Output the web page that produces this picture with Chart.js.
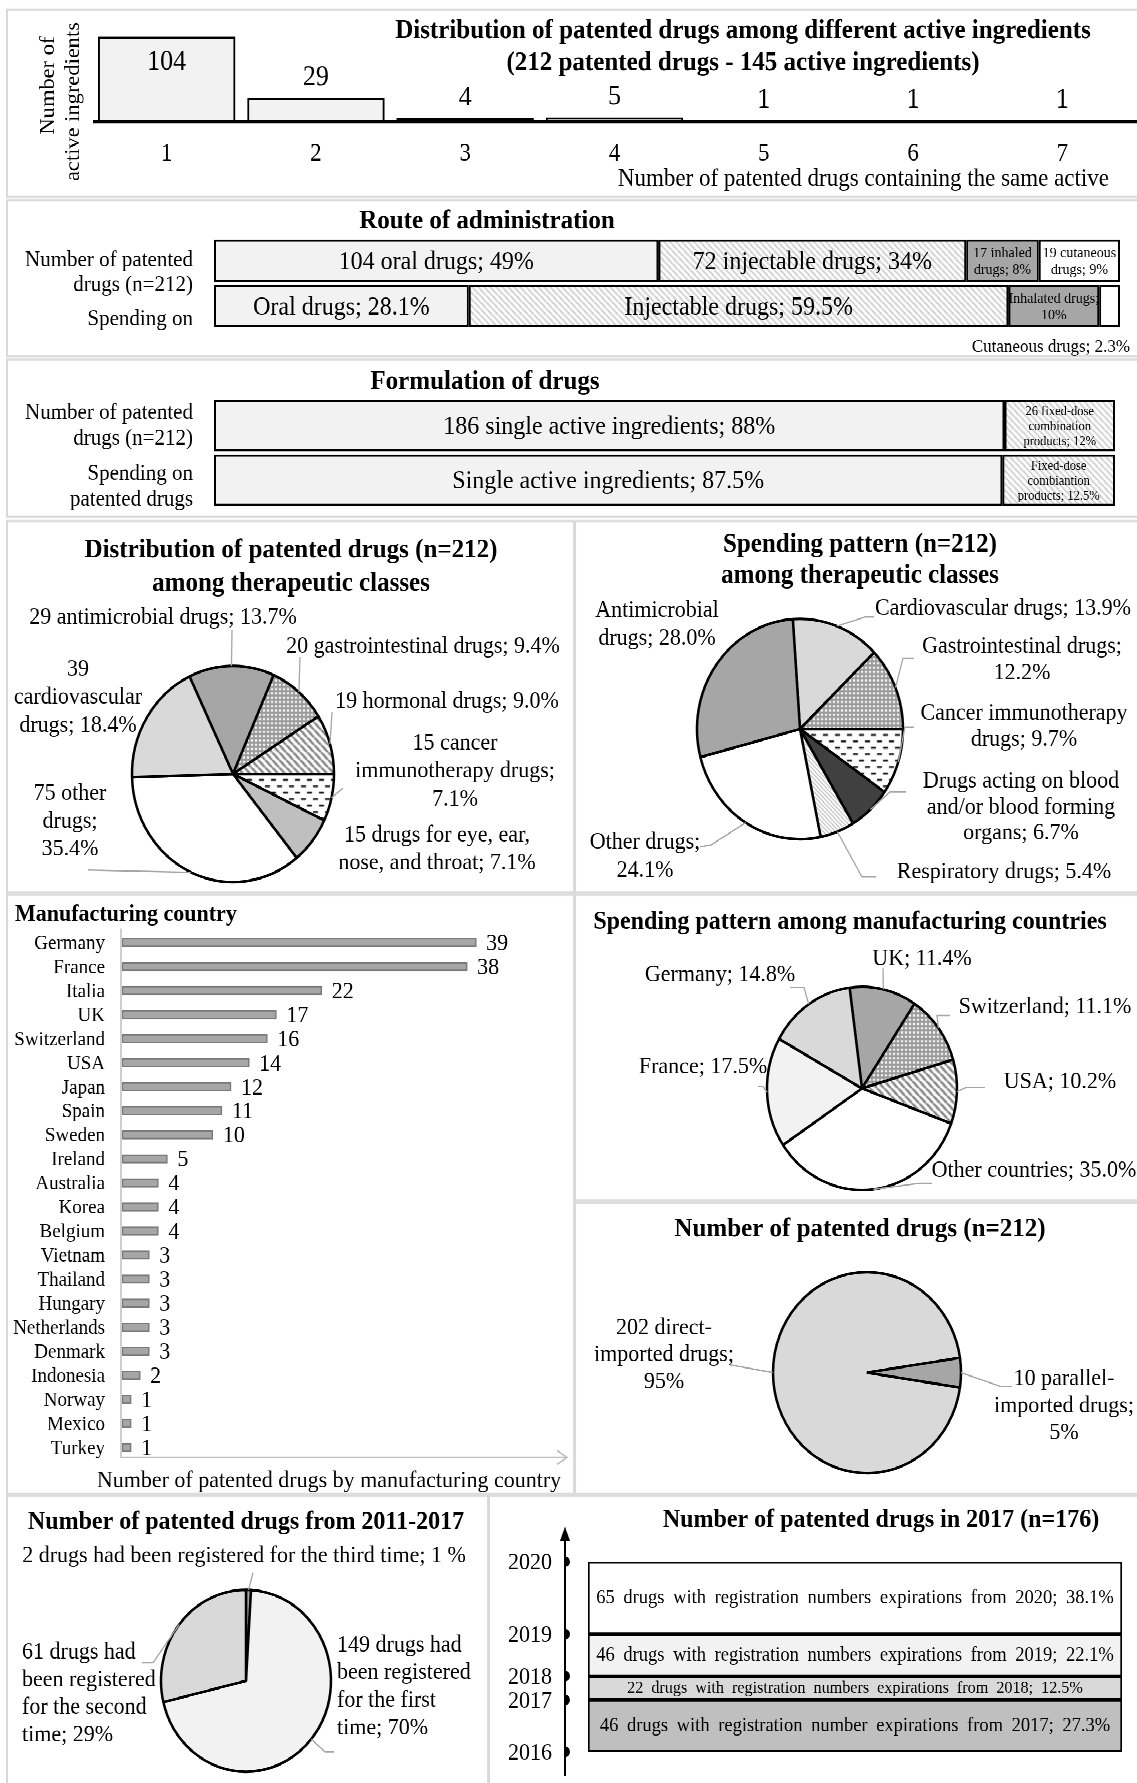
<!DOCTYPE html>
<html><head><meta charset="utf-8">
<script src="https://cdn.jsdelivr.net/npm/chart.js@4.4.1/dist/chart.umd.min.js"></script>
<style>
html,body{margin:0;padding:0;background:#fff;}
body{width:1137px;height:1783px;overflow:hidden;position:relative;}
#page{position:absolute;left:0;top:0;width:1137px;transform-origin:0 0;}
.panel{position:absolute;box-sizing:border-box;border:2px solid #d9d9d9;}
canvas{position:absolute;}
</style></head><body><div id="page"></div>
<script>
// ================= DATA =================
const activeCategories = ['1','2','3','4','5','6','7'];
const activeIngredientCounts = [104, 29, 4, 5, 1, 1, 1];

const routeNames = ['Oral','Injectable','Inhaled','Cutaneous'];
const routeDrugCounts = [104, 72, 17, 19];
const routeSpendingPct = [28.1, 59.5, 10, 2.3];
const routeCountLabels = ['104 oral drugs; 49%', '72 injectable drugs; 34%', '17 inhaled\ndrugs; 8%', '19 cutaneous\ndrugs; 9%'];
const routeSpendLabels = ['Oral drugs; 28.1%', 'Injectable drugs; 59.5%', 'Inhalated drugs;\n10%', ''];
const routeOutsideLabel = 'Cutaneous drugs; 2.3%';

const formulationNames = ['Single active ingredients', 'Fixed-dose combination products'];
const formulationDrugCounts = [186, 26];
const formulationSpendingPct = [87.5, 12.5];
const formulationCountLabels = ['186 single active ingredients; 88%', '26 fixed-dose\ncombination\nproducts; 12%'];
const formulationSpendLabels = ['Single active ingredients; 87.5%', 'Fixed-dose\ncombiantion\nproducts; 12.5%'];

const therapyCountClasses = ['Antimicrobial','Gastrointestinal','Hormonal','Cancer immunotherapy','Eye, ear, nose, throat','Other','Cardiovascular'];
const therapyCountValues = [29, 20, 19, 15, 15, 75, 39];
const therapyCountLabels = ['29 antimicrobial drugs; 13.7%', '20 gastrointestinal drugs; 9.4%', '19 hormonal drugs; 9.0%', '15 cancer\nimmunotherapy drugs;\n7.1%', '15 drugs for eye, ear,\nnose, and throat; 7.1%', '75 other\ndrugs;\n35.4%', '39\ncardiovascular\ndrugs; 18.4%'];

const therapySpendClasses = ['Cardiovascular','Gastrointestinal','Cancer immunotherapy','Blood','Respiratory','Other','Antimicrobial'];
const therapySpendPct = [13.9, 12.2, 9.7, 6.7, 5.4, 24.1, 28.0];
const therapySpendLabels = ['Cardiovascular drugs; 13.9%', 'Gastrointestinal drugs;\n12.2%', 'Cancer immunotherapy\ndrugs; 9.7%', 'Drugs acting on blood\nand/or blood forming\norgans; 6.7%', 'Respiratory drugs; 5.4%', 'Other drugs;\n24.1%', 'Antimicrobial\ndrugs; 28.0%'];

const countries = ['Germany','France','Italia','UK','Switzerland','USA','Japan','Spain','Sweden','Ireland','Australia','Korea','Belgium','Vietnam','Thailand','Hungary','Netherlands','Denmark','Indonesia','Norway','Mexico','Turkey'];
const countryDrugCounts = [39, 38, 22, 17, 16, 14, 12, 11, 10, 5, 4, 4, 4, 3, 3, 3, 3, 3, 2, 1, 1, 1];

const spendCountries = ['UK','Switzerland','USA','Other countries','France','Germany'];
const spendCountryPct = [11.4, 11.1, 10.2, 35.0, 17.5, 14.8];
const spendCountryLabels = ['UK; 11.4%','Switzerland; 11.1%','USA; 10.2%','Other countries; 35.0%','France; 17.5%','Germany; 14.8%'];

const importTypes = ['Direct-imported','Parallel-imported'];
const importCounts = [202, 10];
const importLabels = ['202 direct-\nimported drugs;\n95%', '10 parallel-\nimported drugs;\n5%'];

const registrationTimes = ['Third time','First time','Second time'];
const registrationCounts = [2, 149, 61];
const registrationLabels = ['2 drugs had been registered for the third time; 1 %', '149 drugs had\nbeen registered\nfor the first\ntime; 70%', '61 drugs had\nbeen registered\nfor the second\ntime; 29%'];

const expiryYears = ['2016','2017','2018','2019','2020'];
const expiryPct = [27.3, 12.5, 22.1, 38.1];
const expiryLabels = ['46 drugs with registration number expirations from 2017; 27.3%', '22 drugs with registration numbers expirations from 2018; 12.5%', '46 drugs with registration numbers expirations from 2019; 22.1%', '65 drugs with registration numbers expirations from 2020; 38.1%'];

// ================= LAYOUT HELPERS =================
const K = 1.07;
const FONT = '"Liberation Serif", "Times New Roman", serif';
const page = document.getElementById('page');
page.style.height = (1783 / K) + 'px';
page.style.transform = 'scaleY(' + K + ')';
const sum = a => a.reduce((s, v) => s + v, 0);

function addPanel(x0, y0, x1, y1) {
  const d = document.createElement('div');
  d.className = 'panel';
  d.style.left = x0 + 'px'; d.style.top = (y0 / K) + 'px';
  d.style.width = (x1 - x0) + 'px'; d.style.height = ((y1 - y0) / K) + 'px';
  page.appendChild(d);
}
function area(x0, y0, x1, y1) {
  const c = document.createElement('canvas');
  const w = Math.round(x1 - x0), h = Math.round((y1 - y0) / K);
  c.width = w; c.height = h;
  c.style.left = x0 + 'px'; c.style.top = (y0 / K) + 'px';
  page.appendChild(c);
  return { c, w, h, X: v => v - x0, Y: v => (v - y0) / K };
}
function pad(a, l, r, t, b) {
  return { left: a.X(l), right: a.w - a.X(r), top: a.Y(t), bottom: a.h - a.Y(b) };
}
function text(ctx, s, x, y, size, o = {}) {
  ctx.save();
  ctx.font = (o.bold ? 'bold ' : '') + size + 'px ' + FONT;
  ctx.fillStyle = o.color || '#000';
  ctx.textAlign = o.align || 'center';
  ctx.textBaseline = 'middle';
  if (o.ws && 'wordSpacing' in ctx) ctx.wordSpacing = o.ws + 'px';
  const dy = size * 0.06;
  if (o.rotate) { ctx.translate(x, y); ctx.rotate(o.rotate); ctx.fillText(s, 0, dy); }
  else ctx.fillText(s, x, y + dy);
  ctx.restore();
}
function lines(ctx, s, x, y, size, lh, o) {
  s.split('\n').forEach((l, i) => text(ctx, l, x, y + i * lh, size, o));
}
function centeredLines(ctx, s, x, cy, size, lh, o) {
  const arr = s.split('\n');
  arr.forEach((l, i) => text(ctx, l, x, cy + (i - (arr.length - 1) / 2) * lh, size, o));
}
function tile(w, h, draw) {
  const c = document.createElement('canvas'); c.width = w; c.height = h;
  const x = c.getContext('2d'); draw(x, w, h);
  return x.createPattern(c, 'repeat');
}
function diag(size, lw, color, bg) {
  return tile(size, size, x => {
    x.fillStyle = bg; x.fillRect(0, 0, size, size);
    x.strokeStyle = color; x.lineWidth = lw; x.beginPath();
    for (const o of [-size, 0, size]) { x.moveTo(o, 0); x.lineTo(o + size, size); }
    x.stroke();
  });
}
const patDots = tile(4, 4, x => { x.fillStyle = '#9a9a9a'; x.fillRect(0, 0, 4, 4); x.fillStyle = '#fff'; x.fillRect(1, 1, 2, 2); });
const patStripes = diag(7, 2.2, '#808080', '#fff');
const patInject = diag(6, 1.4, '#c4c4c4', '#fff');
const patFine = diag(4, 1, '#a0a0a0', '#fff');
const patDash = tile(12, 12, x => { x.fillStyle = '#fff'; x.fillRect(0, 0, 12, 12); x.fillStyle = '#000'; x.fillRect(1, 2, 5, 1.6); x.fillRect(7, 8, 5, 1.6); });

const baseOpts = { responsive: false, animation: false, devicePixelRatio: 2, events: [],
  plugins: { legend: { display: false }, tooltip: { enabled: false } } };

// ================= PANEL 1: active ingredients =================
(function () {
  addPanel(6, 9, 1140, 198);
  const a = area(6, 9, 1137, 198);
  new Chart(a.c, {
    type: 'bar',
    data: { labels: activeCategories, datasets: [{ data: activeIngredientCounts, backgroundColor: '#f2f2f2', borderColor: '#000', borderWidth: 2, borderSkipped: 'bottom', barPercentage: 0.92, categoryPercentage: 1 }] },
    options: Object.assign({}, baseOpts, {
      layout: { padding: pad(a, 92, 1137, 37, 122) },
      scales: { x: { display: false }, y: { display: false, min: 0, max: Math.max(...activeIngredientCounts) } }
    }),
    plugins: [{ id: 'p1', afterDraw(ch) {
      const ctx = ch.ctx, ys = ch.scales.y, base = ys.getPixelForValue(0);
      ctx.save(); ctx.strokeStyle = '#000'; ctx.lineWidth = 3; ctx.beginPath();
      ctx.moveTo(a.X(93), base); ctx.lineTo(a.w, base); ctx.stroke(); ctx.restore();
      ch.getDatasetMeta(0).data.forEach((el, i) => {
        const v = activeIngredientCounts[i];
        const inside = v / ys.max > 0.8;
        text(ctx, String(v), el.x, inside ? el.y + 24 / K : el.y - 22 / K, 26);
        text(ctx, activeCategories[i], el.x, a.Y(153), 23);
      });
      text(ctx, 'Distribution of patented drugs among different active ingredients', a.X(743), a.Y(30), 25, { bold: true });
      text(ctx, '(212 patented drugs - 145 active ingredients)', a.X(743), a.Y(62), 25, { bold: true });
      text(ctx, 'Number of patented drugs containing the same active', a.X(1109), a.Y(178), 23, { align: 'right' });
      text(ctx, 'Number of', a.X(47), a.Y(86), 21, { rotate: -Math.PI / 2 });
      text(ctx, 'active ingredients', a.X(72), a.Y(102), 21, { rotate: -Math.PI / 2 });
    } }]
  });
})();

// ================= stacked horizontal helper =================
function stackedRows(a, plot, barPct, fills, rowsA, rowsB, labelsA, labelsB, smallSize, smallLh, extra) {
  const tA = sum(rowsA), tB = sum(rowsB);
  return new Chart(a.c, {
    type: 'bar',
    data: { labels: ['count', 'spending'], datasets: rowsA.map((v, i) => ({
      data: [v / tA * 100, rowsB[i] / tB * 100], backgroundColor: fills[i], borderColor: '#000', borderWidth: 2,
      borderSkipped: false, barPercentage: barPct, categoryPercentage: 1 })) },
    options: Object.assign({}, baseOpts, {
      indexAxis: 'y',
      layout: { padding: pad(a, plot.l, plot.r, plot.t, plot.b) },
      scales: { x: { stacked: true, display: false, min: 0, max: 100 }, y: { stacked: true, display: false } }
    }),
    plugins: [{ id: 'segLabels', afterDraw(ch) {
      const ctx = ch.ctx;
      rowsA.forEach((_, i) => {
        ch.getDatasetMeta(i).data.forEach((el, j) => {
          const s = j === 0 ? labelsA[i] : labelsB[i];
          if (!s) return;
          const cx = (el.x + el.base) / 2;
          if (s.includes('\n')) centeredLines(ctx, s, cx, el.y, smallSize, smallLh / K);
          else text(ctx, s, cx, el.y, 24);
        });
      });
      extra(ctx);
    } }]
  });
}

// ================= PANEL 2: route =================
(function () {
  addPanel(6, 199, 1140, 357);
  const a = area(6, 199, 1137, 357);
  stackedRows(a, { l: 214, r: 1120, t: 238, b: 329 }, 0.93, ['#f2f2f2', patInject, '#a6a6a6', '#ffffff'],
    routeDrugCounts, routeSpendingPct, routeCountLabels, routeSpendLabels, 14, 17, x => {
      text(x, 'Route of administration', a.X(487), a.Y(220), 25, { bold: true });
      lines(x, 'Number of patented\ndrugs (n=212)', a.X(193), a.Y(259), 21, 25 / K, { align: 'right' });
      text(x, 'Spending on', a.X(193), a.Y(318), 21, { align: 'right' });
      text(x, routeOutsideLabel, a.X(1130), a.Y(346), 17, { align: 'right' });
    });
})();

// ================= PANEL 3: formulation =================
(function () {
  addPanel(6, 358, 1140, 518);
  const a = area(6, 358, 1137, 518);
  stackedRows(a, { l: 214, r: 1115, t: 398, b: 507 }, 0.94, ['#f2f2f2', patInject],
    formulationDrugCounts, formulationSpendingPct, formulationCountLabels, formulationSpendLabels, 12.5, 15, x => {
      text(x, 'Formulation of drugs', a.X(485), a.Y(380), 25, { bold: true });
      lines(x, 'Number of patented\ndrugs (n=212)', a.X(193), a.Y(411), 21, 26 / K, { align: 'right' });
      lines(x, 'Spending on\npatented drugs', a.X(193), a.Y(472), 21, 26 / K, { align: 'right' });
    });
})();

// ================= pie helper =================
function pie(a, cfg) {
  const R = cfg.r;
  const cx = a.X(cfg.cx), cy = a.Y(cfg.cy);
  new Chart(a.c, {
    type: 'pie',
    data: { labels: cfg.names, datasets: [{ data: cfg.values, backgroundColor: cfg.colors, borderColor: '#000', borderWidth: 2.5 }] },
    options: Object.assign({}, baseOpts, {
      rotation: cfg.rotation, radius: R,
      layout: { padding: { left: cx - R, right: a.w - cx - R, top: cy - R, bottom: a.h - cy - R } }
    }),
    plugins: [{ id: 'pieLabels', afterDraw(ch) {
      const ctx = ch.ctx;
      const meta = ch.getDatasetMeta(0);
      ctx.save(); ctx.strokeStyle = '#a6a6a6'; ctx.lineWidth = 1.3;
      meta.data.forEach((el, i) => {
        const L = cfg.leaders[i]; if (!L) return;
        const mid = (el.startAngle + el.endAngle) / 2;
        ctx.beginPath();
        ctx.moveTo(el.x + Math.cos(mid) * el.outerRadius, el.y + Math.sin(mid) * el.outerRadius);
        L.forEach(p => ctx.lineTo(a.X(p[0]), a.Y(p[1])));
        ctx.stroke();
      });
      ctx.restore();
      cfg.labels.forEach((s, i) => {
        const p = cfg.pos[i];
        lines(ctx, s, a.X(p.x), a.Y(p.y), cfg.fontSize || 22, (p.lh || 28) / K, { align: p.align || 'center' });
      });
      cfg.titles.forEach(t => text(ctx, t.s, a.X(t.x), a.Y(t.y), t.size, { bold: true }));
    } }]
  });
}

// ================= PANEL 4 =================
(function () {
  addPanel(6, 520, 575, 893);
  const a = area(6, 520, 573, 892);
  pie(a, {
    cx: 233, cy: 774, r: 101, rotation: -25.5,
    names: therapyCountClasses, values: therapyCountValues, labels: therapyCountLabels,
    colors: ['#a6a6a6', patDots, patStripes, patDash, '#bfbfbf', '#ffffff', '#d9d9d9'],
    pos: [{ x: 163, y: 616 }, { x: 423, y: 645 }, { x: 447, y: 700 }, { x: 455, y: 742, lh: 28 }, { x: 437, y: 834, lh: 28 }, { x: 70, y: 792, lh: 28 }, { x: 78, y: 668, lh: 28 }],
    leaders: [[[232, 630]], [[300, 657]], [[332, 712]], [[343, 788]], null, [[88, 870]], null],
    titles: [{ s: 'Distribution of patented drugs (n=212)', x: 291, y: 549, size: 25 }, { s: 'among therapeutic classes', x: 291, y: 582, size: 25 }]
  });
})();

// ================= PANEL 5 =================
(function () {
  addPanel(574, 520, 1140, 893);
  const a = area(576, 520, 1137, 892);
  pie(a, {
    cx: 800, cy: 729, r: 103, rotation: -4,
    names: therapySpendClasses, values: therapySpendPct, labels: therapySpendLabels,
    colors: ['#d9d9d9', patDots, patDash, '#404040', patFine, '#ffffff', '#a6a6a6'],
    pos: [{ x: 1003, y: 607 }, { x: 1022, y: 645, lh: 27 }, { x: 1024, y: 712, lh: 26 }, { x: 1021, y: 780, lh: 26 }, { x: 1004, y: 871 }, { x: 645, y: 841, lh: 28 }, { x: 657, y: 609, lh: 28 }],
    leaders: [[[865, 617], [874, 617]], [[903, 658], [914, 658]], [[905, 727], [914, 727]], [[890, 792], [906, 792]], [[862, 877], [876, 877]], [[711, 845], [700, 847]], null],
    titles: [{ s: 'Spending pattern (n=212)', x: 860, y: 543, size: 25 }, { s: 'among therapeutic classes', x: 860, y: 574, size: 25 }]
  });
})();

// ================= PANEL 6: countries =================
(function () {
  addPanel(6, 893, 575, 1495);
  const a = area(6, 893, 573, 1494);
  new Chart(a.c, {
    type: 'bar',
    data: { labels: countries, datasets: [{ data: countryDrugCounts, backgroundColor: '#a6a6a6', borderColor: '#7a7a7a', borderWidth: 1.5, borderSkipped: false, barThickness: 8, categoryPercentage: 1 }] },
    options: Object.assign({}, baseOpts, {
      indexAxis: 'y',
      layout: { padding: pad(a, 122, 567, 930, 1459) },
      scales: { x: { display: false, min: 0, max: 49 }, y: { display: false } }
    }),
    plugins: [{ id: 'p6', afterDraw(ch) {
      const ctx = ch.ctx;
      ctx.save(); ctx.strokeStyle = '#bfbfbf'; ctx.lineWidth = 1.5; ctx.beginPath();
      ctx.moveTo(a.X(121), a.Y(928)); ctx.lineTo(a.X(121), a.Y(1457)); ctx.lineTo(a.X(567), a.Y(1457));
      ctx.moveTo(a.X(557), a.Y(1450)); ctx.lineTo(a.X(567), a.Y(1457)); ctx.lineTo(a.X(557), a.Y(1464));
      ctx.stroke(); ctx.restore();
      ch.getDatasetMeta(0).data.forEach((el, i) => {
        text(ctx, countries[i], a.X(105), el.y, 19, { align: 'right' });
        text(ctx, String(countryDrugCounts[i]), el.x + 10, el.y, 22, { align: 'left' });
      });
      text(ctx, 'Manufacturing country', a.X(15), a.Y(913), 22, { bold: true, align: 'left' });
      text(ctx, 'Number of patented drugs by manufacturing country', a.X(329), a.Y(1479), 22);
    } }]
  });
})();

// ================= PANEL 7 =================
(function () {
  addPanel(574, 893, 1140, 1202);
  const a = area(576, 893, 1137, 1201);
  pie(a, {
    cx: 862, cy: 1088, r: 95, rotation: -7.5,
    names: spendCountries, values: spendCountryPct, labels: spendCountryLabels,
    colors: ['#a6a6a6', patDots, patStripes, '#ffffff', '#f2f2f2', '#d9d9d9'],
    pos: [{ x: 922, y: 957 }, { x: 1045, y: 1005 }, { x: 1060, y: 1080 }, { x: 1034, y: 1169 }, { x: 703, y: 1065 }, { x: 720, y: 973 }],
    leaders: [[[883, 968]], [[937, 1015], [950, 1015]], [[966, 1087], [985, 1087]], [[919, 1183], [932, 1183]], [[763, 1086], [758, 1086]], [[804, 987], [790, 987]]],
    titles: [{ s: 'Spending pattern among manufacturing countries', x: 850, y: 920, size: 24 }]
  });
})();

// ================= PANEL 8 =================
(function () {
  addPanel(574, 1202, 1140, 1495);
  const a = area(576, 1202, 1137, 1494);
  pie(a, {
    cx: 867, cy: 1373, r: 94, rotation: 98.5,
    names: importTypes, values: importCounts, labels: importLabels,
    colors: ['#d9d9d9', '#a6a6a6'],
    pos: [{ x: 664, y: 1327, lh: 27 }, { x: 1064, y: 1378, lh: 27 }],
    leaders: [[[729, 1365]], [[1001, 1387], [1012, 1387]]],
    titles: [{ s: 'Number of patented drugs (n=212)', x: 860, y: 1228, size: 25 }]
  });
})();

// ================= PANEL 9 =================
(function () {
  addPanel(6, 1495, 489, 1786);
  const a = area(6, 1495, 487, 1783);
  pie(a, {
    cx: 246, cy: 1681, r: 85, rotation: 0,
    names: registrationTimes, values: registrationCounts, labels: registrationLabels,
    colors: ['#a6a6a6', '#f2f2f2', '#d9d9d9'],
    pos: [{ x: 244, y: 1555 }, { x: 337, y: 1644, lh: 27.7, align: 'left' }, { x: 22, y: 1651, lh: 27.7, align: 'left' }],
    leaders: [[[253, 1573]], [[325, 1752], [334, 1752]], [[153, 1663], [142, 1663]]],
    titles: [{ s: 'Number of patented drugs from 2011-2017', x: 246, y: 1521, size: 24 }]
  });
})();

// ================= PANEL 10: expirations =================
(function () {
  addPanel(488, 1495, 1140, 1786);
  const a = area(489, 1495, 1137, 1783);
  const fills = ['#bfbfbf', '#d9d9d9', '#f2f2f2', '#ffffff'];
  const total = sum(expiryPct);
  new Chart(a.c, {
    type: 'bar',
    data: { labels: ['2017'], datasets: expiryPct.map((v, i) => ({ data: [v], backgroundColor: fills[i], borderColor: '#000', borderWidth: 2, borderSkipped: false, barPercentage: 1, categoryPercentage: 1 })) },
    options: Object.assign({}, baseOpts, {
      layout: { padding: pad(a, 588, 1122, 1562, 1752) },
      scales: { x: { stacked: true, display: false }, y: { stacked: true, display: false, min: 0, max: total } }
    }),
    plugins: [{ id: 'p10', afterDraw(ch) {
      const ctx = ch.ctx, ys = ch.scales.y;
      expiryPct.forEach((_, i) => {
        const el = ch.getDatasetMeta(i).data[0];
        const hgt = Math.abs(el.base - el.y);
        const fs = Math.min(18.5, (hgt - 2) * 0.8);
        text(ctx, expiryLabels[i], el.x, (el.y + el.base) / 2 - 1, fs, { ws: 4 });
      });
      const ax = a.X(565);
      ctx.save(); ctx.strokeStyle = '#000'; ctx.fillStyle = '#000'; ctx.lineWidth = 2;
      ctx.beginPath(); ctx.moveTo(ax, a.Y(1776)); ctx.lineTo(ax, a.Y(1538)); ctx.stroke();
      ctx.beginPath(); ctx.moveTo(ax, a.Y(1527)); ctx.lineTo(ax - 5, a.Y(1541)); ctx.lineTo(ax + 5, a.Y(1541)); ctx.closePath(); ctx.fill();
      let cum = 0;
      expiryYears.forEach((yr, i) => {
        const y = ys.getPixelForValue(cum);
        ctx.beginPath(); ctx.arc(ax, y, 5, -Math.PI / 2, Math.PI / 2); ctx.closePath(); ctx.fill();
        text(ctx, yr, a.X(552), y, 22, { align: 'right' });
        if (i < expiryPct.length) cum += expiryPct[i];
      });
      ctx.restore();
      text(ctx, 'Number of patented drugs in 2017 (n=176)', a.X(881), a.Y(1519), 24, { bold: true });
    } }]
  });
})();
</script>
</body></html>
